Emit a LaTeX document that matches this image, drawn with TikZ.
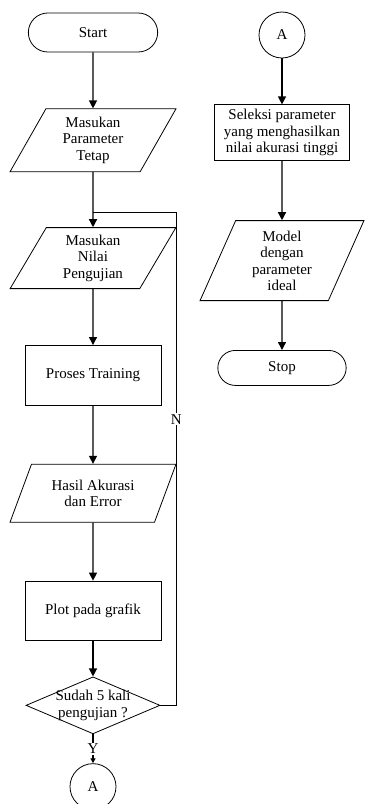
\documentclass[tikz,border=0pt]{standalone}
\usepackage{fontspec}
\setmainfont{Liberation Serif}
\usepackage{tikz}
\usetikzlibrary{arrows.meta,positioning,shapes.geometric,shapes.misc}

\begin{document}
\begin{tikzpicture}[x=1pt,y=-1pt,font=\fontsize{15}{16.5}\selectfont,node distance=56pt]
\tikzstyle{terminal}=[draw,rounded rectangle,minimum width=136pt,minimum height=39pt,line width=0.8pt]
\tikzstyle{io}=[draw,trapezium,trapezium left angle=64,trapezium right angle=116,trapezium stretches=true,minimum width=166pt,align=center,inner sep=2pt,line width=0.8pt]
\tikzstyle{process}=[draw,rectangle,minimum width=136pt,minimum height=60pt,align=center,inner sep=2pt,line width=0.8pt]
\tikzstyle{decision}=[draw,diamond,minimum width=134pt,minimum height=57pt,inner sep=0pt,line width=0.8pt]
\tikzstyle{connector}=[draw,circle,minimum size=46pt,inner sep=0pt,line width=0.8pt]
\tikzstyle{arrow}=[line width=1.3pt,->,>={Triangle[length=8pt,width=8pt]}]
\tikzstyle{line}=[line width=1.3pt]
\useasboundingbox (0,0) rectangle (365,804);
% kolom kiri
\node [terminal] at (93,32.5) (start) {Start};
\node [io,minimum height=63pt,below=of start] (tetap) {Masukan\\Parameter\\Tetap};
\node [io,minimum height=61pt,below=55pt of tetap] (uji) {Masukan\\Nilai\\Pengujian};
\node [process,below=of uji] (train) {Proses Training};
\node [io,minimum height=58pt,below=58pt of train] (hasil) {Hasil Akurasi\\dan Error};
\node [process,minimum height=59pt,below=58pt of hasil] (plot) {Plot pada grafik};
\node [decision,below=36pt of plot,label={[align=center]center:Sudah 5 kali\\pengujian ?}] (cek) {};
\node [connector,below=29pt of cek] (a1) {A};
\coordinate [below=40pt of tetap] (gabung);
% kolom kanan
\node [connector] at (282,35) (a2) {A};
\node [process,minimum width=135pt,minimum height=56pt,below=46pt of a2] (seleksi) {Seleksi parameter\\yang menghasilkan\\nilai akurasi tinggi};
\node [io,minimum width=164pt,minimum height=80pt,trapezium left angle=69,trapezium right angle=111,below=59pt of seleksi] (model) {Model\\dengan\\parameter\\ideal};
\node [terminal,minimum width=135pt,minimum height=35pt,below=49pt of model] (stop) {Stop};
% panah
\draw [arrow] (start) -- (tetap);
\draw [arrow] (tetap) -- (uji);
\draw [arrow] (uji) -- (train);
\draw [arrow] (train) -- (hasil);
\draw [arrow] (hasil) -- (plot);
\draw [arrow] (plot) -- (cek);
\draw [arrow,>={Triangle[length=5pt,width=5pt]}] (cek) -- node [fill=white,inner sep=1pt] {Y} (a1);
\draw [line] (cek.east) -- ++(16,0) coordinate (belok) -- node [pos=0.58,fill=white,inner sep=1pt] {N} (belok |- gabung) -- (gabung);
\draw [arrow] (a2) -- (seleksi);
\draw [arrow] (seleksi) -- (model);
\draw [arrow] (model) -- (stop);
\end{tikzpicture}
\end{document}
